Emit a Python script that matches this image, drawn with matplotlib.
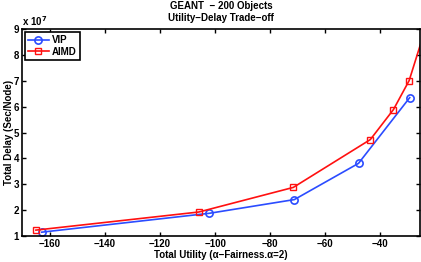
import numpy as np
import matplotlib
matplotlib.use("Agg")
import matplotlib.pyplot as plt

# data (delay in units of 1e7)
vip_x = [-163.0, -102.1, -71.2, -47.9, -29.3]
vip_y = [1.15, 1.88, 2.41, 3.81, 6.35]
aimd_x = [-165.1, -105.9, -71.6, -43.6, -35.2, -29.5, -23.5]
aimd_y = [1.23, 1.93, 2.88, 4.73, 5.89, 7.01, 9.05]

xticks = [-160, -140, -120, -100, -80, -60, -40]
yticks = [1, 2, 3, 4, 5, 6, 7, 8, 9]

fsize = 7
plt.rcParams['font.family'] = ['Liberation Sans', 'DejaVu Sans']
plt.rcParams['font.weight'] = 'bold'
plt.rcParams['mathtext.default'] = 'bf'

fig = plt.figure(figsize=(4.21, 2.62), dpi=100)
ax = fig.add_axes([0.052, 0.099, 0.946, 0.79])

ax.plot(vip_x, vip_y, '-o', color='#2b4cff', lw=1.2, ms=5.2, mfc='none',
        mew=1.2, label='VIP')
ax.plot(aimd_x, aimd_y, '-s', color='#ff1010', lw=1.2, ms=4.2, mfc='none',
        mew=1.0, label='AIMD')

ax.set_xlim(-170.2, -25.5)
ax.set_ylim(1, 9)
ax.set_xticks(xticks)
ax.set_yticks(yticks)
ax.set_xticklabels([u"\u2212%d" % abs(t) for t in xticks])
ax.tick_params(direction='in', top=True, right=True, labelsize=fsize,
               length=3, width=1, pad=2)
for s in ax.spines.values():
    s.set_linewidth(1.2)

ax.set_xlabel(u"Total Utility (\u03b1\u2212Fairness.\u03b1=2)", fontsize=fsize,
              fontweight='bold', labelpad=1)
ax.set_ylabel("Total Delay (Sec/Node)", fontsize=fsize, fontweight='bold',
              labelpad=0)
ax.set_title(u"GEANT  \u2212 200 Objects\nUtility\u2212Delay Trade\u2212off",
             fontsize=fsize, fontweight='bold', pad=6, linespacing=1.2)
ax.text(0.0, 1.003, r"x 10$^{7}$", transform=ax.transAxes, fontsize=fsize,
        fontweight='bold', ha='left', va='bottom')

leg = ax.legend(loc='upper left', fontsize=fsize, fancybox=False,
                edgecolor='k', framealpha=1, borderpad=0.3,
                handlelength=2.2, handletextpad=0.3, labelspacing=0.2,
                borderaxespad=0.3)
leg.get_frame().set_linewidth(1.2)

fig.savefig("out.png", dpi=100)
